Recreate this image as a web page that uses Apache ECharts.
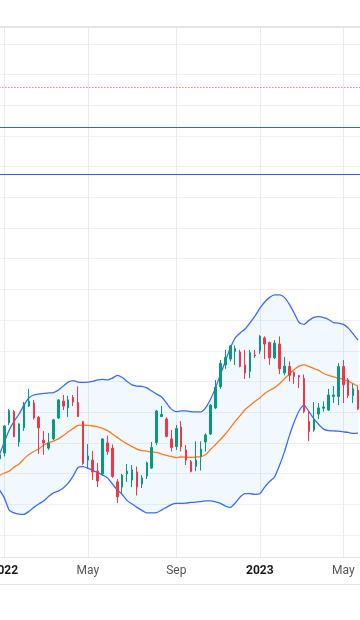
<!DOCTYPE html>
<html><head><meta charset="utf-8">
<script src="https://cdn.jsdelivr.net/npm/echarts@6/dist/echarts.min.js"></script>
<style>html,body{margin:0;padding:0;background:#fff}#c{width:360px;height:620px}</style>
</head><body><div id="c"></div>
<script>
// Weekly bars (Monday dates); the last week is an empty slot at the right edge
const dates = [
'2021-12-27','2022-01-03','2022-01-10','2022-01-17','2022-01-24','2022-01-31','2022-02-07','2022-02-14','2022-02-21','2022-02-28',
'2022-03-07','2022-03-14','2022-03-21','2022-03-28','2022-04-04','2022-04-11','2022-04-18','2022-04-25','2022-05-02','2022-05-09',
'2022-05-16','2022-05-23','2022-05-30','2022-06-06','2022-06-13','2022-06-20','2022-06-27','2022-07-04','2022-07-11','2022-07-18',
'2022-07-25','2022-08-01','2022-08-08','2022-08-15','2022-08-22','2022-08-29','2022-09-05','2022-09-12','2022-09-19','2022-09-26',
'2022-10-03','2022-10-10','2022-10-17','2022-10-24','2022-10-31','2022-11-07','2022-11-14','2022-11-21','2022-11-28','2022-12-05',
'2022-12-12','2022-12-19','2022-12-26','2023-01-02','2023-01-09','2023-01-16','2023-01-23','2023-01-30','2023-02-06','2023-02-13',
'2023-02-20','2023-02-27','2023-03-06','2023-03-13','2023-03-20','2023-03-27','2023-04-03','2023-04-10','2023-04-17','2023-04-24',
'2023-05-01','2023-05-08','2023-05-15','2023-05-22','2023-05-29'
];
const opens = [124.8,126.7,136.5,140.2,130.3,134.9,142.0,143.0,138.3,130.9,128.3,131.3,138.1,143.6,141.4,144.8,143.2,137.0,124.4,124.4,
120.8,119.9,130.0,128.3,117.3,115.6,119.9,117.9,120.5,116.6,119.2,121.8,130.1,138.6,137.8,131.3,128.8,135.2,127.7,123.9,
122.3,125.6,130.3,132.9,141.4,148.4,155.4,157.3,159.8,159.6,155.4,153.3,158.6,159.9,164.2,162.7,157.7,162.2,152.8,154.9,
152.9,151.9,151.0,137.0,134.2,139.4,141.3,140.7,145.1,145.1,154.9,150.5,145.4,147.2];
const closes = [126.1,135.5,140.5,132.0,136.2,142.7,143.6,138.1,134.9,130.0,130.0,137.5,144.0,142.0,144.0,143.3,138.6,123.3,125.7,120.5,
117.6,131.3,127.2,119.1,112.4,119.5,120.8,121.2,115.6,118.6,123.5,128.5,140.4,139.3,132.1,128.5,134.7,128.8,124.4,120.7,
124.4,128.0,132.6,142.3,148.2,155.9,157.8,161.6,160.7,154.9,152.8,159.4,158.3,164.8,162.2,157.7,162.5,154.1,155.0,152.0,
151.6,151.5,140.2,133.7,137.5,141.4,141.7,145.6,145.6,154.9,148.9,145.4,147.6,141.0];
const lows = [124.1,125.6,135.8,131.9,128.8,133.9,141.7,137.6,126.4,126.1,127.7,130.9,137.8,140.7,138.4,142.0,138.4,122.8,121.5,117.9,
115.6,119.2,126.1,118.6,110.4,113.7,117.3,115.6,112.9,115.3,118.2,121.5,129.2,138.4,131.8,127.2,127.7,127.2,122.8,120.4,
120.8,121.0,127.2,132.6,141.0,147.6,154.1,156.5,155.4,154.6,150.8,151.1,157.7,159.0,157.3,155.4,157.3,152.4,152.0,150.0,
149.2,147.9,139.7,130.6,133.6,137.8,140.2,140.4,143.0,142.3,143.0,144.6,143.0,140.7];
const highs = [126.7,135.8,141.0,140.7,136.3,143.3,147.6,144.0,138.8,133.9,133.2,137.8,144.3,145.6,145.3,145.6,148.4,137.1,129.6,127.4,
123.5,131.5,132.4,129.5,118.2,119.9,123.1,122.8,122.3,119.5,123.9,130.3,140.7,142.0,138.3,134.2,135.8,137.1,129.3,124.4,
130.5,130.5,133.1,142.7,150.5,157.0,160.3,161.9,161.7,160.3,160.3,160.3,160.3,165.1,164.7,163.0,163.5,164.7,158.0,156.5,
153.3,152.1,152.3,140.2,143.3,143.0,143.5,147.6,148.5,156.0,157.0,151.1,149.2,148.4];
const upperBand = [126.1,130.3,134.2,137.1,139.4,142.3,144.6,145.6,145.9,146.1,146.3,146.4,147.2,148.5,149.8,150.3,149.8,149.7,149.8,150.0,
150.5,150.7,150.5,151.1,152.0,151.3,150.0,148.9,148.5,148.4,147.9,146.9,145.9,145.0,143.0,141.0,140.2,140.4,140.4,140.2,
140.1,140.1,141.5,144.3,148.0,152.3,156.7,160.9,164.2,165.8,167.1,169.1,171.3,173.8,175.9,177.4,178.2,178.2,177.4,175.2,
172.3,169.2,168.6,169.9,170.9,171.1,170.8,170.2,169.2,169.0,168.6,167.4,165.5,163.5];
const basisLine = [119.4,120.2,120.8,122.1,123.1,124.8,126.2,127.2,128.0,129.3,130.0,130.6,131.3,132.4,133.6,134.7,135.7,135.8,135.7,135.5,
135.2,134.7,134.0,132.9,131.8,130.6,129.7,128.8,128.0,127.5,127.3,127.0,126.9,126.4,125.9,125.6,125.2,125.4,125.3,125.3,
125.4,125.5,126.2,127.9,129.5,131.1,132.9,134.9,137.0,138.9,140.9,142.2,143.5,144.6,146.1,147.1,148.0,149.3,150.8,152.4,
153.9,155.0,155.4,154.9,154.2,153.6,152.6,152.0,151.5,151.1,150.7,150.2,149.3,148.4];
const lowerBand = [114.7,112.1,108.1,107.2,106.8,106.7,107.7,109.0,110.1,111.1,112.5,113.7,114.3,115.3,116.9,119.2,122.0,122.3,121.8,121.0,
120.4,119.5,118.6,116.6,114.7,113.2,111.2,110.1,109.0,108.0,107.2,107.2,107.3,108.1,109.0,109.9,110.3,110.3,110.4,110.6,
110.7,110.9,111.1,111.1,110.8,110.3,109.4,109.0,110.4,112.4,113.5,113.5,113.2,113.4,115.6,117.4,118.9,122.6,127.0,132.2,
136.8,140.4,142.3,140.2,137.9,136.0,134.5,134.0,133.9,133.8,133.6,133.4,133.1,133.2];
const dottedLevel = 245.8;
const blueLevels = [232.8, 217.5];
const yRange = [92.83, 265.47];
const monthNames = ['Jan','Feb','Mar','Apr','May','Jun','Jul','Aug','Sep','Oct','Nov','Dec'];
const labeledMonths = [0, 4, 8];

function isMark(v) {
  const p = v.split('-');
  return (+p[2]) <= 7 && labeledMonths.indexOf(+p[1] - 1) >= 0;
}
const candles = opens.map((o, i) => [o, closes[i], lows[i], highs[i]]);
const bandWidth = upperBand.map((u, i) => +(u - lowerBand[i]).toFixed(2));

const chart = echarts.init(document.getElementById('c'), null, {renderer: 'canvas'});
const GRID_LINE = '#eef0f3';
const SEP = '#e3e5ec';
chart.setOption({
  animation: false,
  backgroundColor: '#ffffff',
  grid: {left: -0.6, width: 363.56, top: 27, bottom: 63, containLabel: false, outerBoundsMode: 'none'},
  xAxis: [{
    type: 'category', data: dates, boundaryGap: false, gridIndex: 0, position: 'bottom',
    axisLine: {show: true, lineStyle: {color: SEP, width: 1}},
    axisTick: {show: false},
    splitLine: {show: true, interval: (i, v) => isMark(v), lineStyle: {color: '#e9eaee', width: 1}},
    axisLabel: {
      interval: (i, v) => isMark(v), margin: 8, hideOverlap: false,
      formatter: function (v) {
        const p = v.split('-'); const m = +p[1] - 1;
        return m === 0 ? '{y|' + p[0] + '}' : '{m|' + monthNames[m] + '}';
      },
      rich: {
        y: {fontFamily: 'Roboto', fontSize: 12, fontWeight: 'bold', color: '#191919'},
        m: {fontFamily: 'Roboto', fontSize: 12, color: '#555555'}
      }
    }
  }, {
    type: 'value', gridIndex: 0, position: 'top', min: 0, max: 1,
    axisLine: {show: true, onZero: false, lineStyle: {color: SEP, width: 2}},
    axisTick: {show: false}, axisLabel: {show: false}, splitLine: {show: false}
  }, {
    type: 'value', gridIndex: 0, position: 'bottom', offset: 27, min: 0, max: 1,
    axisLine: {show: true, onZero: false, lineStyle: {color: SEP, width: 1}},
    axisTick: {show: false}, axisLabel: {show: false}, splitLine: {show: false}
  }],
  yAxis: {
    type: 'value', min: yRange[0], max: yRange[1], minInterval: 10, maxInterval: 10, position: 'right',
    axisLine: {show: false}, axisTick: {show: false}, axisLabel: {show: false},
    splitLine: {show: true, lineStyle: {color: GRID_LINE, width: 1}}
  },
  series: [
    {type: 'line', name: 'bandBase', data: lowerBand, stack: 'bb', symbol: 'none', silent: true,
     lineStyle: {opacity: 0}, z: 1},
    {type: 'line', name: 'bandFill', data: bandWidth, stack: 'bb', symbol: 'none', silent: true,
     lineStyle: {opacity: 0}, areaStyle: {color: 'rgba(33,150,243,0.06)', opacity: 1}, z: 1},
    {type: 'line', name: 'Upper', data: upperBand, symbol: 'none', silent: true, smooth: 0.2,
     lineStyle: {color: '#3a6cf6', width: 1.3}, z: 2},
    {type: 'line', name: 'Lower', data: lowerBand, symbol: 'none', silent: true, smooth: 0.2,
     lineStyle: {color: '#3a6cf6', width: 1.3}, z: 2},
    {type: 'line', name: 'Basis', data: basisLine, symbol: 'none', silent: true, smooth: 0.2,
     lineStyle: {color: '#ff7a1a', width: 1.3}, z: 2},
    {type: 'candlestick', name: 'Price', data: candles, barWidth: 2, clip: false, z: 3,
     itemStyle: {color: '#089981', color0: '#f23645', borderColor: '#089981', borderColor0: '#f23645', borderWidth: 1},
     markLine: {
       silent: true, symbol: ['none', 'none'], label: {show: false}, animation: false,
       data: [
         {yAxis: dottedLevel, lineStyle: {color: '#f23645', width: 1, type: [1, 2]}},
         {yAxis: blueLevels[0], lineStyle: {color: '#2962ff', width: 1, type: 'solid'}},
         {yAxis: blueLevels[1], lineStyle: {color: '#2962ff', width: 1, type: 'solid'}}
       ]
     }}
  ]
});
</script>
</body></html>
